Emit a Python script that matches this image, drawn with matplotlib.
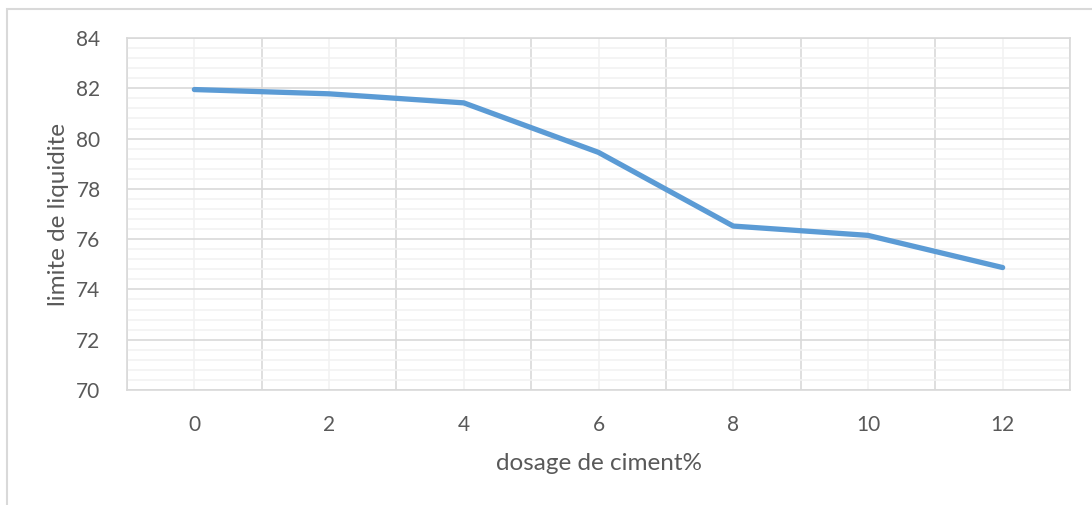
import matplotlib
matplotlib.use("Agg")
import matplotlib.pyplot as plt
import numpy as np
from matplotlib.patches import Rectangle

categories = ["0", "2", "4", "6", "8", "10", "12"]
limite = [81.95, 81.78, 81.42, 79.45, 76.52, 76.15, 74.87]

W, H = 1092, 505
fig = plt.figure(figsize=(W / 100, H / 100), dpi=100)
fig.patch.set_facecolor("white")

# outer chart border
fig.patches.append(Rectangle((7 / W, -0.1), 1.2, (H - 9) / H + 0.1, transform=fig.transFigure,
                             fill=False, edgecolor="#D9D9D9", linewidth=1.5))

ax = fig.add_axes([127 / W, (H - 390) / H, (1070 - 127) / W, (390 - 38) / H])
x = np.arange(len(categories))
ax.plot(x, limite, color="#5B9BD5", linewidth=3.8, solid_capstyle="round", solid_joinstyle="round", zorder=3)

ax.set_xlim(-0.5, len(categories) - 0.5)
ax.set_ylim(70, 84)
ax.set_xticks(x)
ax.set_xticklabels(categories)
ax.set_xticks(np.arange(-0.5, len(categories), 1.0), minor=True)
ax.set_yticks(np.arange(70, 85, 2))
ax.set_yticks(np.arange(70, 84.01, 0.4), minor=True)

ax.grid(which="major", axis="y", color="#D9D9D9", linewidth=1.2, zorder=1)
ax.grid(which="minor", axis="y", color="#F2F2F2", linewidth=1.2, zorder=0)
ax.grid(which="minor", axis="x", color="#D9D9D9", linewidth=1.2, zorder=1)
ax.grid(which="major", axis="x", color="#F2F2F2", linewidth=1.2, zorder=0)
ax.set_axisbelow(True)

for s in ax.spines.values():
    s.set_color("#D9D9D9")
    s.set_linewidth(1.2)

ax.tick_params(which="both", length=0, labelsize=15, colors="#595959", labelfontfamily="Lato")
ax.tick_params(axis="x", pad=18)
ax.tick_params(axis="y", pad=19)

ax.set_xlabel("dosage de ciment%", fontsize=17.5, color="#595959", family="Lato", labelpad=13)
ax.set_ylabel("limite de liquidite", fontsize=17.5, color="#595959", family="Lato", labelpad=5)

fig.savefig("out.png", dpi=100, facecolor="white")
